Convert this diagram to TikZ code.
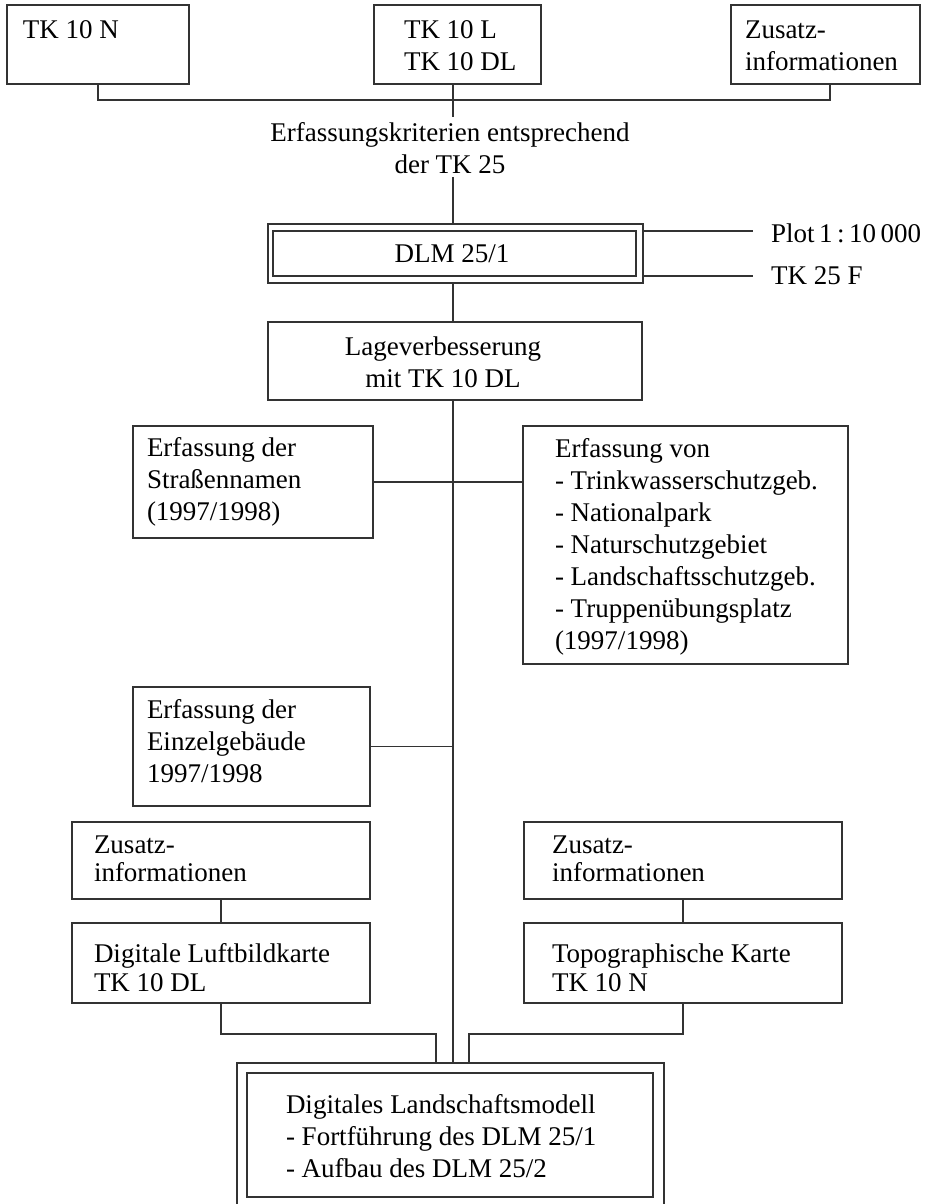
\documentclass[tikz,border=0pt]{standalone}
\usepackage{fontspec}
\setmainfont{Liberation Serif}
\newcommand\lnsL[2]{\vtop{\baselineskip=#1pt\lineskiplimit=-100pt\lineskip=0pt\halign{##\hfil\cr#2\crcr}}}
\newcommand\lnsC[2]{\vtop{\baselineskip=#1pt\lineskiplimit=-100pt\lineskip=0pt\halign{\hfil##\hfil\cr#2\crcr}}}
\definecolor{ln}{HTML}{333333}
\begin{document}
\begin{tikzpicture}[x=1pt,y=-1pt,
  every node/.style={font=\fontsize{27}{32}\selectfont, inner sep=0pt, outer sep=0pt},
  box/.style={draw=ln, line width=1.3pt, rectangle, anchor=north west},
  lbl/.style={anchor=base west, text=black},
  clbl/.style={anchor=base, text=black},
  conn/.style={draw=ln, line width=1.3pt}]
\useasboundingbox (0,0) rectangle (927,1204);
\clip (0,0) rectangle (927,1204);
\fill[white] (0,0) rectangle (927,1204);

% top row
\node[box, minimum width=182pt, minimum height=79pt] (tkn) at (7,5) {};
\node[lbl] (tknT) at (23,39) {TK 10 N};
\node[box, minimum width=167pt, minimum height=79pt] (tkl) at (374,5) {};
\node[lbl] (tklT) at (404,39) {\lnsL{32}{TK 10 L\cr TK 10 DL}};
\node[box, minimum width=189pt, minimum height=79pt] (zus1) at (731,5) {};
\node[lbl] (zus1T) at (745,39) {\lnsL{32}{Zusatz-\cr informationen}};

\coordinate (j1) at (453,100);
\coordinate (k1) at (453,117);
\coordinate (k2) at (453,177);
\node[clbl] (krit) at (450,142) {\lnsC{32}{Erfassungskriterien entsprechend\cr der TK 25}};

% DLM 25/1
\node[box, minimum width=375pt, minimum height=59pt] (dlmO) at (268,224) {};
\node[box, minimum width=363pt, minimum height=45pt] (dlmI) at (273,231) {};
\node[clbl] (dlmT) at (452,262) {DLM 25/1};
\coordinate (p1) at (753,231);
\coordinate (p2) at (753,276);
\node[lbl] (plot) at (771,242) {Plot\,1\,:\,10\,000};
\node[lbl] (tkf) at (771,284) {TK 25 F};

% Lageverbesserung
\node[box, minimum width=374pt, minimum height=78pt] (lage) at (268,322) {};
\node[clbl] (lageT) at (443,355) {\lnsC{32}{Lageverbesserung\cr mit TK 10 DL}};

% side boxes
\node[box, minimum width=240pt, minimum height=112pt] (str) at (133,426) {};
\node[lbl] (strT) at (147,456) {\lnsL{32}{Erfassung der\cr Straßennamen\cr (1997/1998)}};
\node[box, minimum width=325pt, minimum height=238pt] (von) at (523,426) {};
\node[lbl] (vonT) at (555,457) {\lnsL{32}{Erfassung von\cr - Trinkwasserschutzgeb.\cr - Nationalpark\cr - Naturschutzgebiet\cr - Landschaftsschutzgeb.\cr - Truppenübungsplatz\cr (1997/1998)}};
\node[box, minimum width=237pt, minimum height=119pt] (ein) at (133,687) {};
\node[lbl] (einT) at (147,718) {\lnsL{32}{Erfassung der\cr Einzelgebäude\cr 1997/1998}};

% lower pairs
\node[box, minimum width=298pt, minimum height=77pt] (zusL) at (72,822) {};
\node[lbl] (zusLT) at (94,853) {\lnsL{28}{Zusatz-\cr informationen}};
\node[box, minimum width=298pt, minimum height=80pt] (dlb) at (72,923) {};
\node[lbl] (dlbT) at (94,962) {\lnsL{29}{Digitale Luftbildkarte\cr TK 10 DL}};
\node[box, minimum width=318pt, minimum height=77pt] (zusR) at (524,822) {};
\node[lbl] (zusRT) at (552,853) {\lnsL{28}{Zusatz-\cr informationen}};
\node[box, minimum width=318pt, minimum height=80pt] (topo) at (524,923) {};
\node[lbl] (topoT) at (552,962) {\lnsL{29}{Topographische Karte\cr TK 10 N}};

% bottom double box
\node[box, minimum width=427pt, minimum height=160pt] (botO) at (237,1063) {};
\node[box, minimum width=406pt, minimum height=124pt] (botI) at (247,1073) {};
\node[lbl] (botT) at (286,1113) {\lnsL{32}{Digitales Landschaftsmodell\cr - Fortführung des DLM 25/1\cr - Aufbau des DLM 25/2}};
\coordinate (l1) at (436,1034);
\coordinate (r1) at (469,1034);

% connectors
\draw[conn] (tkn.south) |- (j1) -| ([xshift=4.5pt]zus1.south);
\draw[conn] (tkl.south -| j1) -- (k1);
\draw[conn] (k2) -- (dlmO.north -| k2);
\draw[conn] (dlmI.north east -| dlmO.east) -- (p1);
\draw[conn] (dlmI.south east -| dlmO.east) -- (p2);
\draw[conn] (dlmO.south -| k2) -- (lage.north -| k2);
\draw[conn] (lage.south -| k2) -- (botO.north -| k2);
\draw[conn] (str.east) -- (str.east -| von.west);
\draw[conn] (ein.east) -- (ein.east -| k2);
\draw[conn] (zusL.south) -- (dlb.north);
\draw[conn] (zusR.south) -- (topo.north);
\draw[conn] (dlb.south) |- (l1) -- (botO.north -| l1);
\draw[conn] (topo.south) |- (r1) -- (botO.north -| r1);
\end{tikzpicture}
\end{document}
